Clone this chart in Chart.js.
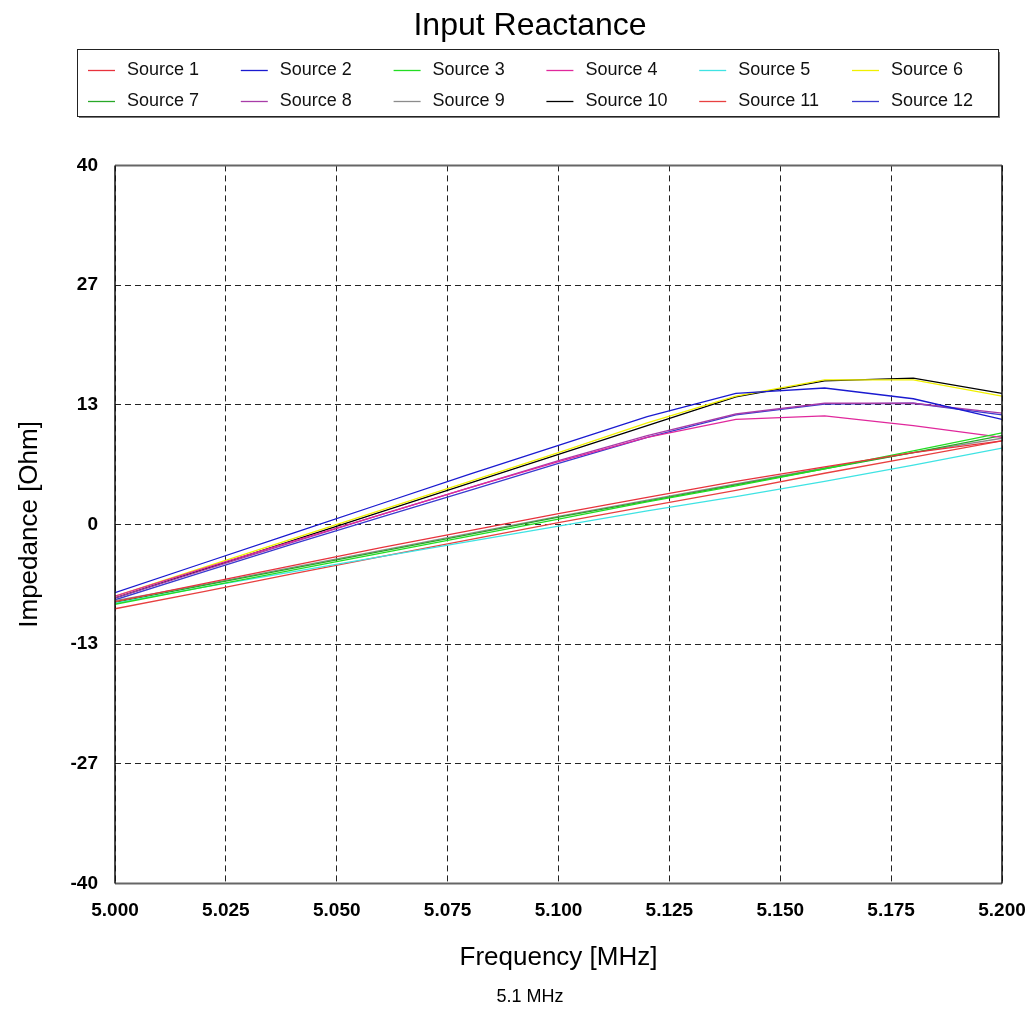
<!DOCTYPE html>
<html>
<head>
<meta charset="utf-8">
<title>Input Reactance</title>
<script src="https://cdn.jsdelivr.net/npm/chart.js@4.4.0/dist/chart.umd.min.js"></script>
<style>
  html, body { margin: 0; padding: 0; background: #fff; }
  canvas { display: block; }
</style>
</head>
<body>
<canvas id="reactance" width="1033" height="1013"></canvas>
<script>
// frequency points (MHz)
var freq = [5.00, 5.02, 5.04, 5.06, 5.08, 5.10, 5.12, 5.14, 5.16, 5.18, 5.20];

// reactance per source (Ohm)
var source1  = [-8.6, -6.6, -4.6, -2.6, -0.7, 1.2, 3.0, 4.8, 6.4, 8.0, 9.3];
var source2  = [-7.6, -4.3, -1.0, 2.3, 5.6, 8.8, 12.0, 14.6, 15.2, 14.0, 11.7];
var source3  = [-8.9, -7.0, -5.1, -3.2, -1.3, 0.6, 2.5, 4.3, 6.2, 8.2, 10.2];
var source4  = [-8.0, -4.9, -1.9, 1.1, 4.1, 7.0, 9.7, 11.7, 12.1, 11.0, 9.7];
var source5  = [-8.8, -7.0, -5.3, -3.6, -1.9, -0.2, 1.5, 3.1, 4.8, 6.6, 8.5];
var source6  = [-8.0, -4.8, -1.6, 1.6, 4.8, 8.0, 11.3, 14.3, 16.1, 16.1, 14.3];
var source7  = [-8.7, -6.8, -4.9, -3.0, -1.1, 0.8, 2.6, 4.4, 6.2, 8.0, 9.9];
var source8  = [-8.2, -5.1, -2.0, 1.1, 4.1, 7.1, 9.9, 12.3, 13.5, 13.5, 12.4];
var source9  = [-8.5, -6.7, -4.8, -2.9, -1.0, 0.9, 2.7, 4.5, 6.3, 8.0, 9.6];
var source10 = [-8.2, -5.0, -1.8, 1.4, 4.6, 7.8, 11.0, 14.2, 16.0, 16.3, 14.6];
var source11 = [-9.4, -7.5, -5.5, -3.6, -1.7, 0.2, 2.0, 3.8, 5.7, 7.5, 9.3];
var source12 = [-8.4, -5.3, -2.2, 0.8, 3.8, 6.8, 9.7, 12.2, 13.4, 13.5, 12.2];

var seriesNames = ['Source 1', 'Source 2', 'Source 3', 'Source 4', 'Source 5', 'Source 6',
                   'Source 7', 'Source 8', 'Source 9', 'Source 10', 'Source 11', 'Source 12'];
var seriesColors = ['#e8323c', '#1a1ad0', '#22dd22', '#e0289c', '#3fe3e3', '#f0f000',
                    '#28a828', '#a83ca8', '#8c8c8c', '#000000', '#e84040', '#3a3ad0'];

// axis ticks
var xTicks = [5.000, 5.025, 5.050, 5.075, 5.100, 5.125, 5.150, 5.175, 5.200];
var yTicks = [-40, -26.667, -13.333, 0, 13.333, 26.667, 40];

var FONT = '"Liberation Sans", Arial, sans-serif';

var allSeries = [source1, source2, source3, source4, source5, source6,
                 source7, source8, source9, source10, source11, source12];
var datasets = allSeries.map(function (vals, i) {
  return {
    label: seriesNames[i],
    data: vals,
    borderColor: seriesColors[i],
    backgroundColor: seriesColors[i],
    borderWidth: 1.3,
    pointRadius: 0,
    tension: 0,
    fill: false
  };
});

// plot frame (top/bottom grey, sides black)
var framePlugin = {
  id: 'frame',
  afterDatasetsDraw: function (chart) {
    var a = chart.chartArea, c = chart.ctx;
    c.save();
    c.lineWidth = 2;
    c.strokeStyle = '#666';
    c.beginPath();
    c.moveTo(a.left, a.top); c.lineTo(a.right, a.top);
    c.moveTo(a.left, a.bottom); c.lineTo(a.right, a.bottom);
    c.stroke();
    c.lineWidth = 1.5;
    c.strokeStyle = '#111';
    c.beginPath();
    c.moveTo(a.left, a.top); c.lineTo(a.left, a.bottom);
    c.moveTo(a.right, a.top); c.lineTo(a.right, a.bottom);
    c.stroke();
    c.restore();
  }
};

// boxed legend, 2 rows x 6 columns
var boxLegend = {
  id: 'boxLegend',
  afterDraw: function (chart) {
    var c = chart.ctx;
    c.save();
    c.fillStyle = '#777';
    c.fillRect(79, 116, 921, 2);
    c.fillRect(998, 52, 2, 66);
    c.strokeStyle = '#222';
    c.lineWidth = 1;
    c.strokeRect(77.5, 49.5, 921, 67);
    c.font = '18px ' + FONT;
    c.textBaseline = 'middle';
    chart.data.datasets.forEach(function (ds, i) {
      var x = 88 + (i % 6) * 152.8;
      var y = 70 + Math.floor(i / 6) * 31;
      c.strokeStyle = ds.borderColor;
      c.lineWidth = 1.3;
      c.beginPath();
      c.moveTo(x, y + 0.5);
      c.lineTo(x + 27, y + 0.5);
      c.stroke();
      c.fillStyle = '#111';
      c.fillText(ds.label, x + 39, y);
    });
    c.restore();
  }
};

new Chart(document.getElementById('reactance').getContext('2d'), {
  type: 'line',
  data: { labels: freq, datasets: datasets },
  plugins: [framePlugin, boxLegend],
  options: {
    responsive: false,
    animation: false,
    devicePixelRatio: 1,
    layout: { padding: { left: 27, right: 0, top: 0, bottom: 0 } },
    plugins: {
      legend: { display: false },
      tooltip: { enabled: false },
      title: {
        display: true,
        text: 'Input Reactance',
        color: '#000',
        font: { family: FONT, size: 32, weight: 'normal' },
        padding: { top: 7, bottom: 120 }
      },
      subtitle: {
        display: true,
        position: 'bottom',
        text: '5.1 MHz',
        color: '#000',
        font: { family: FONT, size: 18, weight: 'normal' },
        padding: { top: 3, bottom: 5 }
      }
    },
    scales: {
      x: {
        type: 'linear',
        min: 5.0,
        max: 5.2,
        afterFit: function (s) {
          s.height = 100;
          s.paddingLeft = 0;
          s.paddingRight = 31;
        },
        afterBuildTicks: function (s) {
          s.ticks = xTicks.map(function (v) { return { value: v }; });
        },
        ticks: {
          padding: 16,
          color: '#000',
          maxRotation: 0,
          autoSkip: false,
          font: { family: FONT, size: 19, weight: 'bold' },
          callback: function (v) { return Number(v).toFixed(3); }
        },
        grid: { color: '#222', lineWidth: 1, drawTicks: false },
        border: { display: false, dash: [6, 4] },
        title: {
          display: true,
          text: 'Frequency [MHz]',
          color: '#000',
          font: { family: FONT, size: 26, weight: 'normal' },
          padding: { top: 0, bottom: 10 }
        }
      },
      y: {
        min: -40,
        max: 40,
        afterFit: function (s) { s.width = 88; },
        afterBuildTicks: function (s) {
          s.ticks = yTicks.map(function (v) { return { value: v }; });
        },
        ticks: {
          padding: 17,
          color: '#000',
          autoSkip: false,
          font: { family: FONT, size: 19, weight: 'bold' },
          callback: function (v) { return Math.round(v); }
        },
        grid: { color: '#222', lineWidth: 1, drawTicks: false },
        border: { display: false, dash: [6, 4] },
        title: {
          display: true,
          text: 'Impedance [Ohm]',
          color: '#000',
          font: { family: FONT, size: 26, weight: 'normal' },
          padding: { top: -12.6, bottom: 0 }
        }
      }
    }
  }
});
</script>
</body>
</html>
